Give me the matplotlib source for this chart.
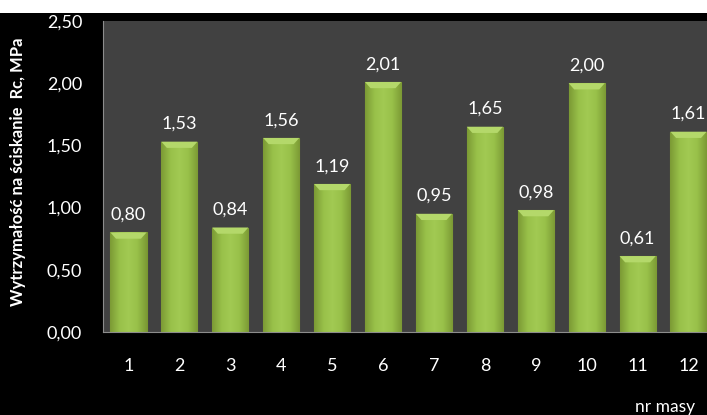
import numpy as np
import matplotlib.pyplot as plt
from matplotlib.colors import LinearSegmentedColormap
from matplotlib.patches import Rectangle

# data
categories = ['1', '2', '3', '4', '5', '6', '7', '8', '9', '10', '11', '12']
values = [0.80, 1.53, 0.84, 1.56, 1.19, 2.01, 0.95, 1.65, 0.98, 2.00, 0.61, 1.61]
yticks = [0.0, 0.5, 1.0, 1.5, 2.0, 2.5]
ylabel = 'Wytrzymałość na ściskanie  Rc, MPa'
xlabel = 'nr masy'

plt.rcParams['font.family'] = ['Lato', 'DejaVu Sans']

def fmt(v):
	return ('%.2f' % v).replace('.', ',')

fig = plt.figure(figsize=(7.07, 4.15), dpi=100)
fig.patch.set_facecolor('black')
# white strip at the top of the picture
fig.patches.append(Rectangle((0, 1 - 13/415), 1, 13/415, transform=fig.transFigure,
	facecolor='white', edgecolor='none', zorder=0))

ax = fig.add_axes([103/707, 83/415, 611/707, 311/415])
ax.set_facecolor('#414141')

x = np.arange(1, len(values) + 1)
width = 0.71

# horizontal gradient for the bars (darker at edges, lighter inside)
cmap = LinearSegmentedColormap.from_list('g', ['#7c9a35', '#98c049', '#a2ca53', '#98c049', '#7c9a35'])
grad = np.linspace(0, 1, 64).reshape(1, -1)

bars = ax.bar(x, values, width=width, color='#9cc44c', edgecolor='#78962f', linewidth=0.8, zorder=2)
for b, v in zip(bars, values):
	x0 = b.get_x()
	x1 = x0 + b.get_width()
	im = ax.imshow(grad, cmap=cmap, aspect='auto', zorder=2.5, extent=[x0, x1, 0, v])
	im.set_clip_path(b)
	# lighter top bevel (trapezoid)
	dx, dh = 0.11, 0.05
	ax.fill([x0, x1, x1 - dx, x0 + dx], [v, v, v - dh, v - dh],
		color='#b4d86a', edgecolor='none', zorder=3)
	ax.annotate(fmt(v), ((x0 + x1)/2, v), xytext=(0, 7), textcoords='offset points',
		ha='center', va='bottom', color='white', fontsize=13)

ax.set_xlim(0.5, 12.5)
ax.set_ylim(0, 2.5)
ax.set_yticks(yticks)
ax.set_yticklabels([fmt(t) for t in yticks])
ax.set_xticks(x)
ax.set_xticklabels(categories)
ax.tick_params(axis='y', length=0, pad=15, colors='white', labelsize=13)
ax.tick_params(axis='x', length=0, pad=19, colors='white', labelsize=13)

for s in ['top', 'right']:
	ax.spines[s].set_visible(False)
ax.spines['left'].set_color('#8c8c8c')
ax.spines['bottom'].set_color('#8c8c8c')

fig.text(18/707, 1 - 172/415, ylabel, rotation=90, color='white', fontsize=12,
	fontweight='bold', ha='center', va='center')
fig.text(665/707, 1 - 407/415, xlabel, color='white', fontsize=12.5, ha='center', va='center')

fig.savefig('out.png', dpi=100, facecolor=fig.get_facecolor())
